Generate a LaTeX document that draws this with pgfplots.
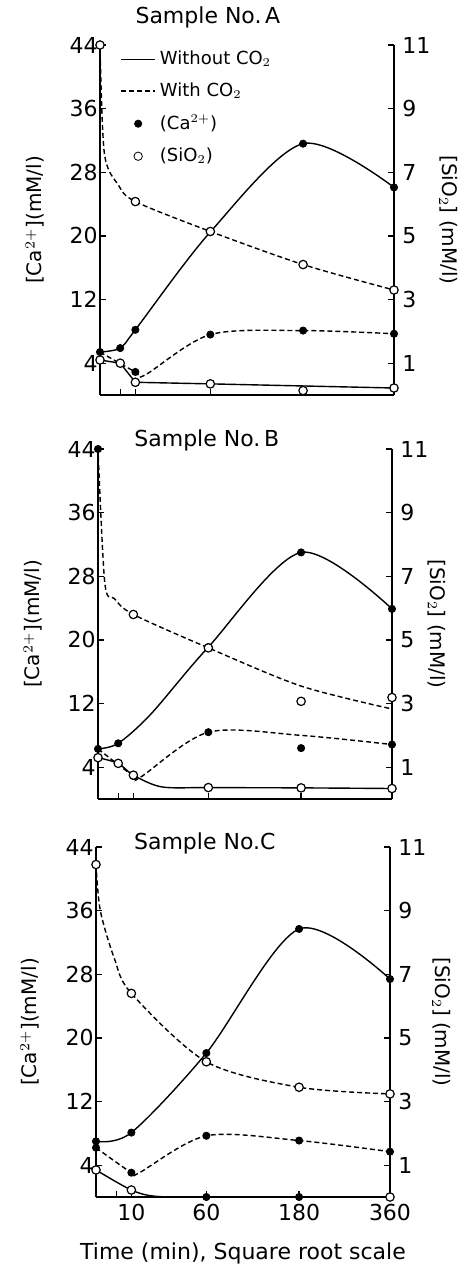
\documentclass[border=0pt]{standalone}
\usepackage{fontspec}
\setmainfont{DejaVu Sans}
\usepackage{pgfplots}
\pgfplotsset{compat=1.18}

\pgfplotsset{
  base/.style={scale only axis, width=147pt, height=175pt, anchor=south west,
    x coord trafo/.code={\pgfmathparse{sqrt(##1)}},
    x coord inv trafo/.code={\pgfmathparse{(##1)*(##1)}},
    xmin=1, xmax=360, clip=false,
    axis line style={-, line width=0.9pt},
    every tick/.style={black, line width=0.6pt}, major tick length=3pt,
    tick label style={font=\fontsize{11}{12}\selectfont},
    label style={font=\fontsize{10}{12}\selectfont},
    /pgf/number format/assume math mode=true},
  caaxis/.style={base, axis x line*=bottom, axis y line*=left,
    ymin=0, ymax=44, ytick={4,12,...,44},
    xtick={5,10,60,180,360}, xticklabels={},
    yticklabel style={inner sep=1pt},
    ylabel={\relax[Ca$^{2+}$](mM/l)}},
  siaxis/.style={base, axis x line=none, axis y line*=right,
    ymin=0, ymax=11, ytick={1,3,...,11},
    yticklabel style={inner sep=1pt, xshift=3pt},
    ylabel={\relax[SiO$_2$] (mM/l)}},
  wo/.style={black, line width=0.7pt, no markers, forget plot},
  wi/.style={black, line width=0.7pt, dash pattern=on 2.5pt off 1.5pt, no markers, forget plot},
  ca/.style={black, only marks, mark=*, mark size=1.8pt, forget plot},
  si/.style={black, only marks, mark=*, mark size=2.1pt, mark options={fill=white, line width=0.6pt}, forget plot},
}

\begin{document}
\begin{tikzpicture}[x=0.5pt,y=-0.5pt]
\useasboundingbox (0,0) rectangle (470,1271);
\coordinate (pA) at (100,395);
\coordinate (pB) at (98,799);
\coordinate (pC) at (96,1197);

% ---------- Sample A
\begin{axis}[caaxis, at={(pA)},
  ylabel style={at={(axis description cs:-0.221,0.5)}, anchor=center},
  legend style={at={(axis description cs:0.068,0.995)}, anchor=north west, draw=none, fill=none,
    font=\fontsize{9}{10}\selectfont, row sep=3.5pt, inner sep=0pt, cells={anchor=west}}]
\addlegendimage{black, line width=0.7pt, no markers}\addlegendentry{Without CO$_2$}
\addlegendimage{black, line width=0.7pt, dash pattern=on 2.5pt off 1.5pt, no markers}\addlegendentry{With CO$_2$}
\addlegendimage{black, only marks, mark=*, mark size=1.8pt}\addlegendentry{(Ca$^{2+}$)}
\addlegendimage{black, only marks, mark=*, mark size=2.1pt, mark options={fill=white}}\addlegendentry{(SiO$_2$)}
\addplot[wo, smooth] coordinates {(1,5.4) (5,5.9) (10,8.2) (60,20.5) (180,31.6) (360,26.1)};
\addplot[wi, smooth] coordinates {(1,5.4) (10,2.9) (14,2.5) (60,7.6) (180,8.1) (360,7.7)};
\addplot[ca] coordinates {(1,5.4) (5,5.9) (10,8.2) (60,20.5) (180,31.6) (360,26.1)};
\addplot[ca] coordinates {(10,2.9) (60,7.6) (180,8.1) (360,7.7)};
\node[font=\fontsize{11}{12}\selectfont] at (axis description cs:0.367,1.078) {Sample No.\,A};
\end{axis}
\begin{axis}[siaxis, at={(pA)},
  ylabel style={at={(axis description cs:1.184,0.5)}, anchor=center, rotate=180}]
\addplot[wo] coordinates {(1,1.1) (5,1.0) (10,0.4) (60,0.35) (360,0.22)};
\addplot[wi, smooth] coordinates {(1,11) (1.6,7.6) (4.5,6.6) (10,6.08) (60,5.14) (180,4.1) (360,3.3)};
\addplot[si] coordinates {(1,1.1) (5,1.0) (10,0.4) (60,0.35) (180,0.14) (360,0.22)};
\addplot[si] coordinates {(1,11) (10,6.08) (60,5.14) (180,4.1) (360,3.3)};
\end{axis}

% ---------- Sample B
\begin{axis}[caaxis, at={(pB)},
  ylabel style={at={(axis description cs:-0.221,0.5)}, anchor=center}]
\addplot[wo, smooth] coordinates {(1,6.3) (5,7.0) (18,10.7) (60,19.1) (180,31.0) (360,23.9)};
\addplot[wi, smooth] coordinates {(1,6.3) (10,2.9) (13,2.75) (60,8.4) (180,8.0) (360,6.85)};
\addplot[ca] coordinates {(1,6.3) (5,7.0) (60,19.1) (180,31.0) (360,23.9)};
\addplot[ca] coordinates {(10,2.9) (60,8.4) (180,6.4) (360,6.85)};
\node[font=\fontsize{11}{12}\selectfont] at (axis description cs:0.37,1.025) {Sample No.\,B};
\end{axis}
\begin{axis}[siaxis, at={(pB)},
  ylabel style={at={(axis description cs:1.153,0.5)}, anchor=center, rotate=180}]
\addplot[wo, smooth] coordinates {(1,1.3) (5,1.12) (10,0.75) (24,0.38) (60,0.36) (180,0.35) (360,0.33)};
\addplot[wi, smooth] coordinates {(1,11) (2,6.8) (4,6.3) (10,5.8) (60,4.75) (180,3.55) (360,2.83)};
\addplot[si] coordinates {(1,1.3) (5,1.12) (10,0.75) (60,0.36) (180,0.35) (360,0.33)};
\addplot[si] coordinates {(10,5.8) (60,4.75) (180,3.07) (360,3.19)};
\addplot[ca] coordinates {(1,11)};
\end{axis}

% ---------- Sample C
\begin{axis}[caaxis, at={(pC)},
  xticklabels={,10,60,180,360},
  xlabel={Time (min), Square root scale},
  xlabel style={at={(axis description cs:0.5,-0.16)}, anchor=center, font=\fontsize{11}{12}\selectfont},
  ylabel style={at={(axis description cs:-0.225,0.5)}, anchor=center}]
\addplot[wo, smooth] coordinates {(1,7.0) (10,8.1) (60,18.1) (180,33.7) (360,27.4)};
\addplot[wi, smooth] coordinates {(1,6.2) (10,3.06) (13,3.0) (60,7.7) (180,7.1) (360,5.7)};
\addplot[ca] coordinates {(1,7.0) (10,8.1) (60,18.1) (180,33.7) (360,27.4)};
\addplot[ca] coordinates {(1,6.2) (10,3.06) (60,7.7) (180,7.1) (360,5.7)};
\node[font=\fontsize{11}{12}\selectfont] at (axis description cs:0.37,1.01) {Sample No.C};
\end{axis}
\begin{axis}[siaxis, at={(pC)},
  ylabel style={at={(axis description cs:1.174,0.5)}, anchor=center, rotate=180}]
\addplot[wo, smooth] coordinates {(1,0.85) (10,0.22) (22,0.02) (60,0) (180,0) (360,0)};
\addplot[wi, smooth] coordinates {(1,10.45) (1.6,9.0) (4.5,7.5) (10,6.4) (60,4.25) (180,3.45) (360,3.24)};
\addplot[si] coordinates {(1,0.85) (10,0.22) (360,0)};
\addplot[ca] coordinates {(60,0) (180,0)};
\addplot[si] coordinates {(1,10.45) (10,6.4) (60,4.25) (180,3.45) (360,3.24)};
\end{axis}
\end{tikzpicture}
\end{document}
